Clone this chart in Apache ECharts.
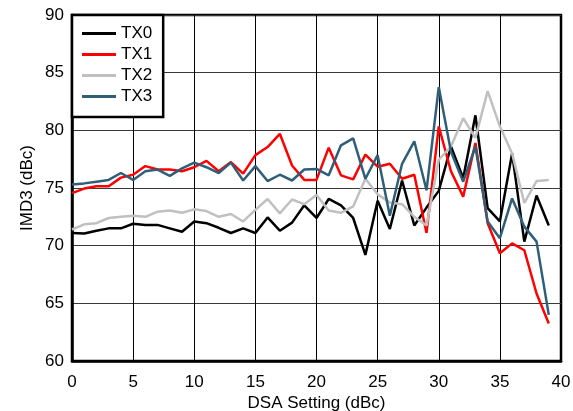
<!DOCTYPE html>
<html>
<head>
<meta charset="utf-8">
<script src="https://cdn.jsdelivr.net/npm/echarts@6/dist/echarts.min.js"></script>
<style>html,body{margin:0;padding:0;background:#fff;}#c{width:573px;height:411px;}</style>
</head>
<body>
<div id="c"></div>
<script>
var dsa = [0,1,2,3,4,5,6,7,8,9,10,11,12,13,14,15,16,17,18,19,20,21,22,23,24,25,26,27,28,29,30,31,32,33,34,35,36,37,38,39];
var tx0 = [71.1,71.05,71.3,71.5,71.5,71.9,71.8,71.8,71.5,71.2,72.1,71.95,71.55,71.1,71.5,71.1,72.45,71.3,72.0,73.5,72.4,74.05,73.5,72.4,69.2,73.9,71.45,75.65,71.75,73.3,74.75,78.6,75.85,81.3,73.25,72.1,78.0,70.35,74.35,71.75];
var tx1 = [74.55,74.95,75.15,75.15,75.9,76.15,76.9,76.6,76.6,76.45,76.8,77.35,76.45,77.25,76.25,77.85,78.55,79.7,76.95,75.7,75.7,78.5,76.1,75.75,77.9,76.85,77.1,75.8,76.15,71.1,80.35,76.45,74.25,78.9,71.95,69.35,70.2,69.6,65.85,63.25];
var tx2 = [71.4,71.85,71.95,72.4,72.5,72.6,72.5,72.95,73.05,72.85,73.15,73.0,72.5,72.75,72.1,73.1,74.05,72.8,74.0,73.6,74.4,73.05,72.85,73.4,75.8,74.45,73.75,73.6,72.5,71.75,77.45,78.6,81.05,79.35,83.4,80.35,78.0,73.7,75.6,75.7];
var tx3 = [75.3,75.4,75.55,75.7,76.3,75.7,76.45,76.6,76.05,76.7,77.2,76.8,76.3,77.2,75.65,76.9,75.6,76.15,75.65,76.6,76.65,76.1,78.7,79.3,75.8,77.85,72.6,77.1,79.05,74.8,83.75,78.15,75.55,78.6,72.1,70.65,74.1,71.65,70.35,64.0];
var seriesNames = ['TX0','TX1','TX2','TX3'];
var seriesColors = ['#000000','#ff0000','#c0c0c0','#2f5f78'];
var xTicks = [0,5,10,15,20,25,30,35,40];
var yTicks = [60,65,70,75,80,85,90];

function pairs(v){ return dsa.map(function(x,i){ return [x, v[i]]; }); }
var allVals = [tx0, tx1, tx2, tx3];
var font = '"Liberation Sans", Arial, sans-serif';

var chart = echarts.init(document.getElementById('c'), null, {renderer:'canvas'});
chart.setOption({
  animation: false,
  backgroundColor: '#ffffff',
  grid: {left: 72, top: 15, right: 12, bottom: 50, containLabel: false, outerBoundsMode: 'none', show: true, borderColor: '#000', borderWidth: 2.5, backgroundColor: 'transparent'},
  legend: {
    show: true, orient: 'vertical', left: 72, top: 15,
    data: seriesNames,
    icon: 'rect', itemWidth: 34, itemHeight: 3, itemGap: 0, itemTextGap: 10,
    padding: [8, 11, 10, 10],
    backgroundColor: '#fff', borderColor: '#000', borderWidth: 2.5,
    textStyle: {color: '#000', fontSize: 17, fontFamily: font, lineHeight: 21, height: 21}
  },
  xAxis: {
    type: 'value', min: xTicks[0], max: xTicks[xTicks.length-1], interval: 5,
    name: 'DSA Setting (dBc)', nameLocation: 'middle', nameGap: 34, nameMoveOverlap: false,
    nameTextStyle: {color: '#000', fontSize: 17, fontFamily: font},
    axisLine: {show: true, lineStyle: {color: '#000', width: 2.5}},
    axisTick: {show: false},
    axisLabel: {color: '#000', fontSize: 17, fontFamily: font, margin: 13},
    splitLine: {show: true, lineStyle: {color: '#000', width: 1}}
  },
  yAxis: {
    type: 'value', min: yTicks[0], max: yTicks[yTicks.length-1], interval: 5,
    name: 'IMD3 (dBc)', nameLocation: 'middle', nameGap: 36, nameRotate: 90, nameMoveOverlap: false,
    nameTextStyle: {color: '#000', fontSize: 17, fontFamily: font},
    axisLine: {show: true, lineStyle: {color: '#000', width: 2.5}},
    axisTick: {show: false},
    axisLabel: {color: '#000', fontSize: 17, fontFamily: font, margin: 8},
    splitLine: {show: true, lineStyle: {color: '#3a3a3a', width: 1}}
  },
  series: seriesNames.map(function(n, k){
    return {
      name: n, type: 'line', data: pairs(allVals[k]),
      showSymbol: false, symbol: 'none',
      lineStyle: {color: seriesColors[k], width: 2.5},
      itemStyle: {color: seriesColors[k]},
      z: 2 + k
    };
  })
});
</script>
</body>
</html>
